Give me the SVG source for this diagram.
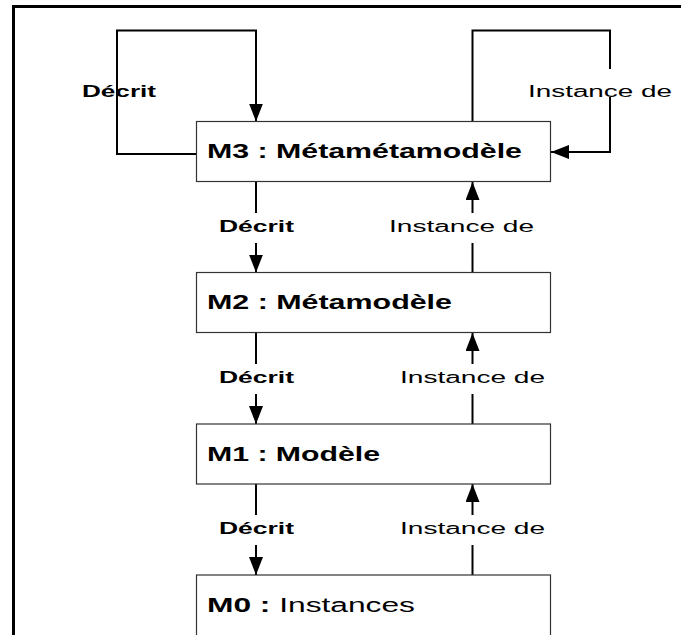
<svg xmlns="http://www.w3.org/2000/svg" width="681" height="635" viewBox="0 0 681 635">
<style>
.box{fill:#fff;stroke:#333;stroke-width:1.2}
.lbl{font-family:"Liberation Sans",Arial,sans-serif;font-size:20px;font-weight:bold;fill:#000}
.lnk{font-family:"Liberation Sans",Arial,sans-serif;font-size:16px;fill:#000}
.c{fill:none;stroke:#000;stroke-width:2}
.frame{fill:none;stroke:#000;stroke-width:3}
</style>
<defs>
<marker id="ah" markerUnits="userSpaceOnUse" markerWidth="18" markerHeight="14" refX="18" refY="7" orient="auto">
<path d="M0,0 L18,7 L0,14 Z" fill="#000"/>
</marker>
</defs>
<rect width="681" height="635" fill="#fff"/>
<path class="frame" d="M13.5,635 V6.5 H681"/>
<g id="connectors">
<path class="c" d="M196.5,154 H117 V69"/>
<path class="c" d="M117,97 V30.5 H256 V121.5" marker-end="url(#ah)"/>
<path class="c" d="M472.5,121.5 V30.5 H610 V69"/>
<path class="c" d="M610,97 V152 H551" marker-end="url(#ah)"/>
<path class="c" d="M256,182 V213"/>
<path class="c" d="M256,243 V272.5" marker-end="url(#ah)"/>
<path class="c" d="M472.5,272.5 V243"/>
<path class="c" d="M472.5,213 V182" marker-end="url(#ah)"/>
<path class="c" d="M256,333 V364"/>
<path class="c" d="M256,394 V424" marker-end="url(#ah)"/>
<path class="c" d="M472.5,424 V394"/>
<path class="c" d="M472.5,364 V333" marker-end="url(#ah)"/>
<path class="c" d="M256,484 V515"/>
<path class="c" d="M256,545 V575" marker-end="url(#ah)"/>
<path class="c" d="M472.5,575 V545"/>
<path class="c" d="M472.5,515 V484" marker-end="url(#ah)"/>
<text class="lnk" font-weight="bold" x="82" y="96.5" textLength="74" lengthAdjust="spacingAndGlyphs">Décrit</text>
<text class="lnk" x="528" y="96.5" textLength="144" lengthAdjust="spacingAndGlyphs">Instance de</text>
<text class="lnk" font-weight="bold" x="219" y="232" textLength="75" lengthAdjust="spacingAndGlyphs">Décrit</text>
<text class="lnk" x="389" y="232" textLength="145" lengthAdjust="spacingAndGlyphs">Instance de</text>
<text class="lnk" font-weight="bold" x="219" y="383" textLength="75" lengthAdjust="spacingAndGlyphs">Décrit</text>
<text class="lnk" x="400" y="383" textLength="145" lengthAdjust="spacingAndGlyphs">Instance de</text>
<text class="lnk" font-weight="bold" x="219" y="534" textLength="75" lengthAdjust="spacingAndGlyphs">Décrit</text>
<text class="lnk" x="400" y="534" textLength="145" lengthAdjust="spacingAndGlyphs">Instance de</text>
</g>
<g id="M3">
<rect class="box" x="196.5" y="121.5" width="354" height="60"/>
<text class="lbl" x="207" y="158" textLength="315" lengthAdjust="spacingAndGlyphs">M3 : Métamétamodèle</text>
</g>
<g id="M2">
<rect class="box" x="196.5" y="272.5" width="354" height="60"/>
<text class="lbl" x="207" y="309" textLength="245" lengthAdjust="spacingAndGlyphs">M2 : Métamodèle</text>
</g>
<g id="M1">
<rect class="box" x="196.5" y="424" width="354" height="60"/>
<text class="lbl" x="207" y="461" textLength="173" lengthAdjust="spacingAndGlyphs">M1 : Modèle</text>
</g>
<g id="M0">
<rect class="box" x="196.5" y="575" width="354" height="70"/>
<text class="lbl" x="207" y="612" textLength="208" lengthAdjust="spacingAndGlyphs">M0 : <tspan font-weight="normal">Instances</tspan></text>
</g>
</svg>
